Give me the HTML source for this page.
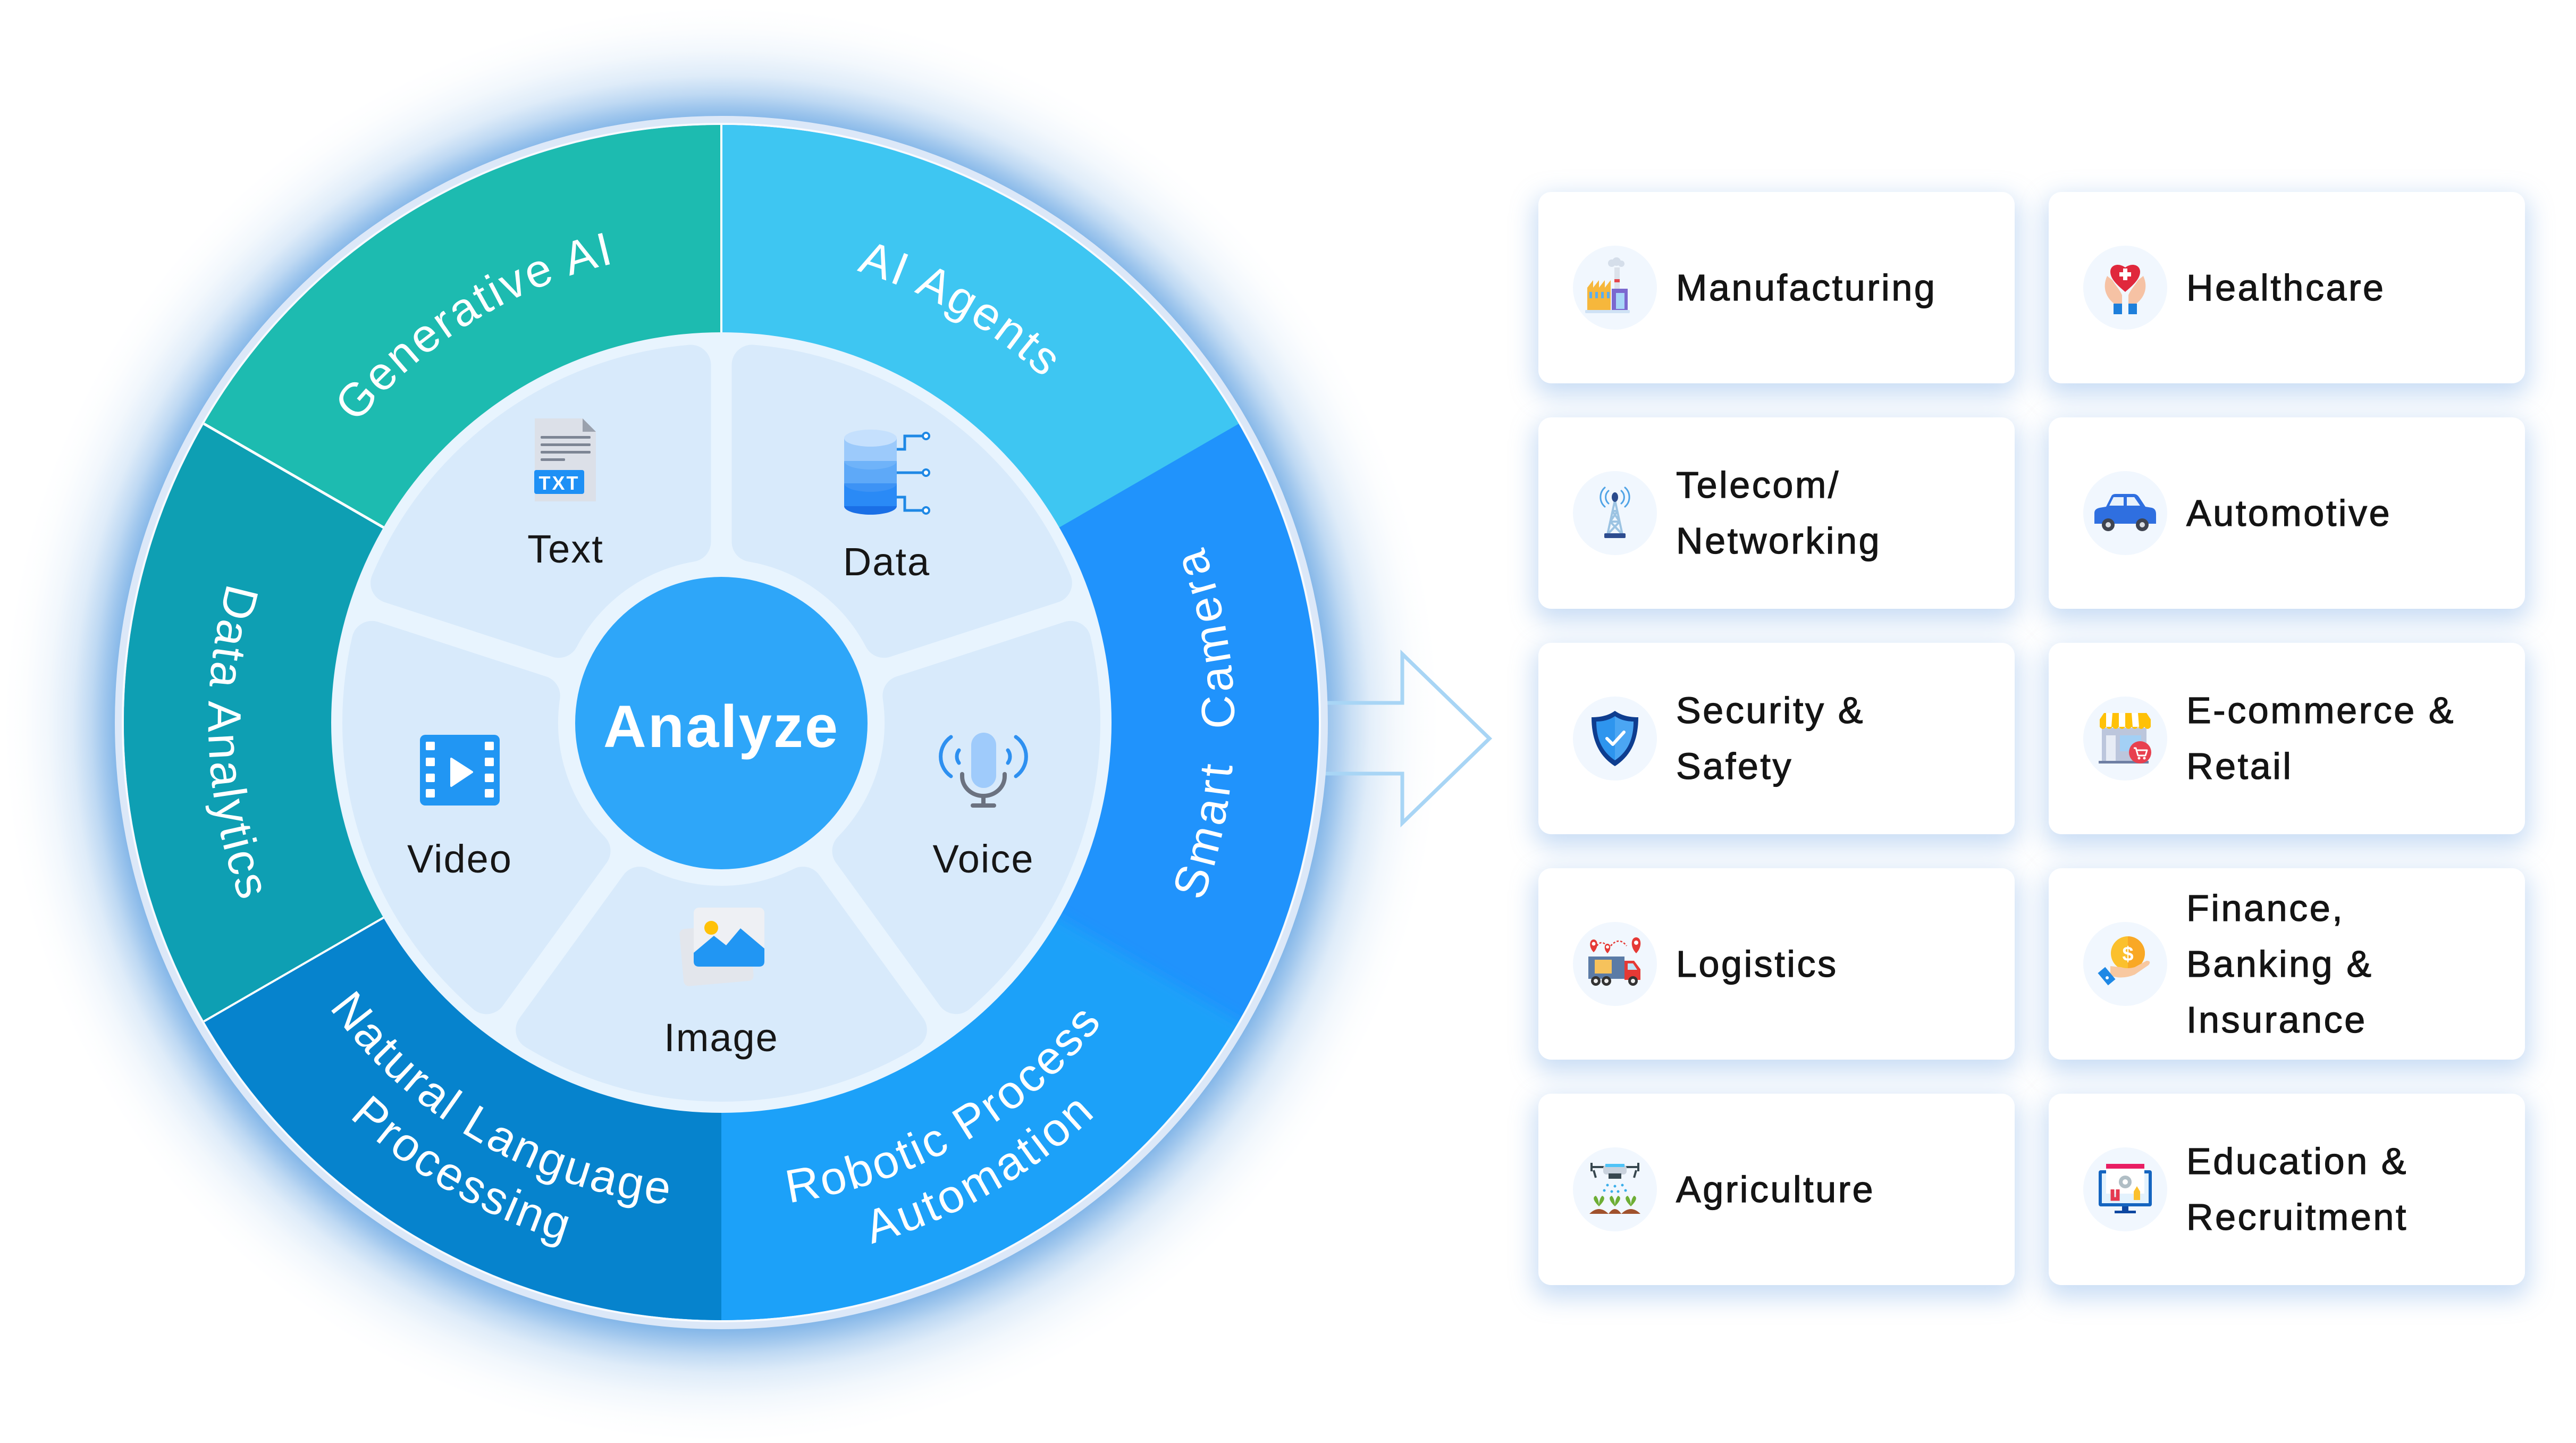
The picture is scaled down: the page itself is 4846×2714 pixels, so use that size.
<!DOCTYPE html>
<html style="width:4846px;height:2714px;overflow:hidden;"><head><meta charset="utf-8">
<style>
html,body{margin:0;padding:0;}
body{width:4846px;height:2714px;position:relative;background:#ffffff;overflow:hidden;font-family:"Liberation Sans",Arial,sans-serif;}
.card{position:absolute;width:896px;height:360px;background:#fff;border-radius:24px;box-shadow:0 16px 46px 8px rgba(105,160,228,0.36);}
.card svg{position:absolute;left:65px;top:101px;width:158px;height:158px;}
.card .t{position:absolute;left:259px;top:0;height:360px;display:flex;align-items:center;font-size:70px;line-height:105px;letter-spacing:3.6px;color:#141414;-webkit-text-stroke:1.3px #141414;white-space:nowrap;}
</style></head>
<body>
<svg width="4846" height="2714" viewBox="0 0 4846 2714" style="position:absolute;left:0;top:0;display:block;overflow:hidden;">
<defs>
  <radialGradient id="glowG" gradientUnits="userSpaceOnUse" cx="1357" cy="1362" r="1350">
    <stop offset="0" stop-color="#2880D7" stop-opacity="0.56"/>
    <stop offset="0.845" stop-color="#2880D7" stop-opacity="0.56"/>
    <stop offset="0.861" stop-color="#2880D7" stop-opacity="0.44"/>
    <stop offset="0.878" stop-color="#2880D7" stop-opacity="0.30"/>
    <stop offset="0.904" stop-color="#2880D7" stop-opacity="0.15"/>
    <stop offset="0.938" stop-color="#2880D7" stop-opacity="0.06"/>
    <stop offset="0.971" stop-color="#2880D7" stop-opacity="0.015"/>
    <stop offset="1" stop-color="#2880D7" stop-opacity="0"/>
  </radialGradient>
  <clipPath id="ring"><circle cx="1357" cy="1359" r="1124"/></clipPath>
  <filter id="soft" x="-5%" y="-5%" width="110%" height="110%"><feGaussianBlur stdDeviation="12"/></filter>
  <path id="pGen" d="M470,1359 A887,887 0 0 1 1800.5,590.8"/>
  <path id="pAg" d="M913.5,590.8 A887,887 0 0 1 2244,1359"/>
  <path id="pSc" d="M1839.5,2194.7 A965,965 0 0 0 1839.5,523.3"/>
  <path id="pDa" d="M874.5,523.3 A965,965 0 0 0 874.5,2194.7"/>
  <path id="pR1" d="M901,2148.8 A912,912 0 0 0 2269,1359"/>
  <path id="pR2" d="M847,2242.3 A1020,1020 0 0 0 2377,1359"/>
  <path id="pN1" d="M445,1359 A912,912 0 0 0 1813,2148.8"/>
  <path id="pN2" d="M337,1359 A1020,1020 0 0 0 1867,2242.3"/>
  <path id="tile" d="M735.1,1096.5 A675,675 0 0 1 1299.5,686.5 L1299.5,1018.8 A345,345 0 0 0 1051.2,1199.2 Z"/>
</defs>

<!-- glow -->
<circle cx="1357" cy="1362" r="1350" fill="url(#glowG)"/>

<!-- arrow -->
<polygon points="2470,1322 2638,1322 2638,1230 2802,1389 2638,1548 2638,1455 2470,1455" fill="rgba(255,255,255,0.18)" stroke="#A8D5F5" stroke-width="7" stroke-linejoin="miter"/>

<!-- outer border -->
<circle cx="1357" cy="1359" r="1141" fill="#DCE8F8"/>
<circle cx="1357" cy="1359" r="1128" fill="#F7FAFE"/>

<!-- wedges -->
<g clip-path="url(#ring)">
  <circle cx="1357" cy="1359" r="1126" fill="#2093FC"/>
  <path d="M1357,1359 L2378.9,1949 A1180,1180 0 0 1 1152.1,2521.1 Z" fill="#1EA1F9" filter="url(#soft)"/>
  <path d="M1357,1359 L1357,179 A1180,1180 0 0 1 2378.9,769 Z" fill="#3EC6F2"/>
  <path d="M1357,1359 L1357,2539 A1180,1180 0 0 1 335.1,1949 Z" fill="#0683CD"/>
  <path d="M1357,1359 L335.1,1949 A1180,1180 0 0 1 335.1,769 Z" fill="#0E9FB3"/>
  <path d="M1357,1359 L335.1,769 A1180,1180 0 0 1 1357,179 Z" fill="#1DBBB0"/>
  <line x1="1357" y1="1359" x2="1357" y2="235" stroke="#ffffff" stroke-width="4"/>
  <line x1="1357" y1="1359" x2="383.6" y2="1921" stroke="#ffffff" stroke-width="4"/>
  <line x1="1357" y1="1359" x2="383.6" y2="797" stroke="#ffffff" stroke-width="5"/>
</g>

<!-- ring labels -->
<g font-family="Liberation Sans, Arial, sans-serif" font-size="88" fill="#ffffff" letter-spacing="4">
  <text><textPath href="#pGen" startOffset="48.5%" text-anchor="middle">Generative AI</textPath></text>
  <text><textPath href="#pAg" startOffset="50%" text-anchor="middle">AI Agents</textPath></text>
  <text letter-spacing="7"><textPath href="#pSc" startOffset="50%" text-anchor="middle">Smart&#160; Camera</textPath></text>
  <text><textPath href="#pDa" startOffset="52%" text-anchor="middle">Data Analytics</textPath></text>
  <text><textPath href="#pR1" startOffset="50%" text-anchor="middle">Robotic Process</textPath></text>
  <text letter-spacing="5"><textPath href="#pR2" startOffset="50%" text-anchor="middle">Automation</textPath></text>
  <text><textPath href="#pN1" startOffset="50%" text-anchor="middle">Natural Language</textPath></text>
  <text><textPath href="#pN2" startOffset="50%" text-anchor="middle">Processing</textPath></text>
</g>

<!-- inner disk -->
<circle cx="1357" cy="1359" r="734" fill="#E8F4FE"/>
<g fill="#D8EAFB" stroke="#D8EAFB" stroke-width="76" stroke-linejoin="round">
  <use href="#tile"/>
  <use href="#tile" transform="rotate(72 1357 1359)"/>
  <use href="#tile" transform="rotate(144 1357 1359)"/>
  <use href="#tile" transform="rotate(216 1357 1359)"/>
  <use href="#tile" transform="rotate(288 1357 1359)"/>
</g>

<!-- center -->
<circle cx="1357" cy="1360" r="275" fill="#2EA6F9"/>
<text x="1357" y="1405" text-anchor="middle" font-family="Liberation Sans, Arial, sans-serif" font-weight="bold" font-size="112" letter-spacing="3" fill="#ffffff">Analyze</text>

<!-- Text icon -->
<g>
  <path d="M1006,787 H1096 L1121,812 V943 H1006 Z" fill="#DCE0E8"/>
  <path d="M1096,787 L1121,812 H1096 Z" fill="#9AA1AD"/>
  <rect x="1017" y="820" width="94" height="5" rx="2" fill="#7D8594"/>
  <rect x="1017" y="834" width="94" height="5" rx="2" fill="#7D8594"/>
  <rect x="1017" y="848" width="94" height="5" rx="2" fill="#7D8594"/>
  <rect x="1017" y="862" width="46" height="5" rx="2" fill="#7D8594"/>
  <rect x="1005" y="884" width="94" height="45" rx="4" fill="#1E90F5"/>
  <text x="1052" y="921" text-anchor="middle" font-family="Liberation Sans, Arial, sans-serif" font-weight="bold" font-size="36" letter-spacing="3" fill="#ffffff">TXT</text>
</g>
<!-- Data icon -->
<g>
  <ellipse cx="1637.5" cy="952" rx="49.5" ry="16" fill="#1A6FE6"/>
  <rect x="1588" y="909" width="99" height="43" fill="#2A8AF6"/>
  <ellipse cx="1637.5" cy="909" rx="49.5" ry="16" fill="#3D93F5"/>
  <rect x="1588" y="867" width="99" height="42" fill="#5EA9F8"/>
  <ellipse cx="1637.5" cy="867" rx="49.5" ry="16" fill="#6FB3F9"/>
  <rect x="1588" y="824" width="99" height="43" fill="#9CCAFB"/>
  <ellipse cx="1637.5" cy="824" rx="49.5" ry="16" fill="#C5E0FD"/>
  <g stroke="#1E88E5" stroke-width="5" fill="none">
    <path d="M1687,845 H1702 V820 H1737"/>
    <path d="M1687,889 H1737"/>
    <path d="M1687,935 H1702 V960 H1737"/>
  </g>
  <g stroke="#1E88E5" stroke-width="4" fill="#ffffff">
    <circle cx="1742" cy="820" r="6"/><circle cx="1742" cy="889" r="6"/><circle cx="1742" cy="960" r="6"/>
  </g>
</g>
<!-- Video icon -->
<g>
  <rect x="790" y="1382" width="150" height="133" rx="10" fill="#2196F3"/>
  <g fill="#ffffff">
    <rect x="801" y="1395" width="17" height="16" rx="2"/><rect x="801" y="1425" width="17" height="16" rx="2"/>
    <rect x="801" y="1455" width="17" height="16" rx="2"/><rect x="801" y="1484" width="17" height="16" rx="2"/>
    <rect x="912" y="1395" width="17" height="16" rx="2"/><rect x="912" y="1425" width="17" height="16" rx="2"/>
    <rect x="912" y="1455" width="17" height="16" rx="2"/><rect x="912" y="1484" width="17" height="16" rx="2"/>
    <path d="M849,1427 L888,1452 L849,1478 Z" stroke="#ffffff" stroke-width="4" stroke-linejoin="round"/>
  </g>
</g>
<!-- Voice icon -->
<g>
  <rect x="1827" y="1378" width="47" height="104" rx="23.5" fill="#9FCBFB"/>
  <path d="M1810,1456 V1460 A40,37 0 0 0 1890,1460 V1456" stroke="#6B7280" stroke-width="8" fill="none" stroke-linecap="round"/>
  <line x1="1850" y1="1497" x2="1850" y2="1513" stroke="#6B7280" stroke-width="8"/>
  <line x1="1830" y1="1515" x2="1870" y2="1515" stroke="#6B7280" stroke-width="8" stroke-linecap="round"/>
  <g stroke="#2E90F0" stroke-width="7" fill="none" stroke-linecap="round">
    <path d="M1789,1386 A45,45 0 0 0 1789,1460"/>
    <path d="M1804,1411 A20,20 0 0 0 1804,1435"/>
    <path d="M1911,1386 A45,45 0 0 1 1911,1460"/>
    <path d="M1896,1411 A20,20 0 0 1 1896,1435"/>
  </g>
</g>
<!-- Image icon -->
<g>
  <rect x="1282" y="1742" width="132" height="108" rx="10" fill="#E3E6EC" transform="rotate(-5 1348 1796)"/>
  <rect x="1305" y="1707" width="133" height="111" rx="10" fill="#EEF0F4"/>
  <circle cx="1338" cy="1745" r="13" fill="#FFC107"/>
  <path d="M1305,1792 L1343,1760 L1366,1778 L1393,1746 L1438,1784 L1438,1808 Q1438,1818 1428,1818 L1315,1818 Q1305,1818 1305,1808 Z" fill="#2196F3"/>
</g>

<!-- inner labels -->
<g font-family="Liberation Sans, Arial, sans-serif" font-size="74" fill="#161616" letter-spacing="2" text-anchor="middle">
  <text x="1064" y="1058">Text</text>
  <text x="1668" y="1082">Data</text>
  <text x="865" y="1641">Video</text>
  <text x="1850" y="1641">Voice</text>
  <text x="1357" y="1977">Image</text>
</g>
</svg>

<!-- Cards -->
<div class="card" style="left:2894px;top:361px;">
  <svg viewBox="-79 -79 158 158">
    <circle r="79" fill="#F1F7FE"/>
    <circle cx="-6" cy="-46" r="7" fill="#D5DEEA"/><circle cx="3" cy="-49" r="8" fill="#D5DEEA"/><circle cx="12" cy="-45" r="6" fill="#D5DEEA"/>
    <rect x="-1" y="-38" width="10" height="42" fill="#DCE2EB"/>
    <rect x="-1" y="-16" width="10" height="6" fill="#E5484D"/>
    <rect x="-6" y="2" width="30" height="40" fill="#7B68CF"/>
    <rect x="2" y="10" width="16" height="30" fill="#A8D6F8"/>
    <path d="M-52,42 V0 L-41,-14 V0 L-30,-14 V0 L-19,-14 V0 L-8,-14 V42 Z" fill="#F6B73C"/>
    <rect x="-48" y="8" width="5" height="12" fill="#5BAEF0"/><rect x="-37" y="8" width="5" height="12" fill="#5BAEF0"/>
    <rect x="-26" y="8" width="5" height="12" fill="#5BAEF0"/><rect x="-15" y="8" width="5" height="12" fill="#5BAEF0"/>
    <rect x="-56" y="42" width="84" height="6" rx="2" fill="#CFE2F5"/>
  </svg>
  <div class="t">Manufacturing</div>
</div>
<div class="card" style="left:3854px;top:361px;">
  <svg viewBox="-79 -79 158 158">
    <circle r="79" fill="#F1F7FE"/>
    <path d="M-34,-22 C-44,0 -36,20 -18,32 L-6,32 L-6,14 C-10,4 -18,-4 -24,-14 Z" fill="#F6C2A4"/>
    <path d="M34,-22 C44,0 36,20 18,32 L6,32 L6,14 C10,4 18,-4 24,-14 Z" fill="#F6C2A4"/>
    <rect x="-22" y="30" width="16" height="20" fill="#1E7FDB"/><rect x="6" y="30" width="16" height="20" fill="#1E7FDB"/>
    <path d="M0,8 C-14,-4 -28,-16 -28,-30 C-28,-42 -14,-48 0,-38 C14,-48 28,-42 28,-30 C28,-16 14,-4 0,8 Z" fill="#E0283C"/>
    <rect x="-4" y="-36" width="8" height="22" fill="#fff"/><rect x="-11" y="-29" width="22" height="8" fill="#fff"/>
  </svg>
  <div class="t">Healthcare</div>
</div>
<div class="card" style="left:2894px;top:785px;">
  <svg viewBox="-79 -79 158 158">
    <circle r="79" fill="#F1F7FE"/>
    <g stroke="#4FA3E6" stroke-width="3" fill="none" stroke-linecap="round">
      <path d="M-12,-42 A16,16 0 0 0 -12,-18"/><path d="M-19,-48 A24,24 0 0 0 -19,-12"/>
      <path d="M12,-42 A16,16 0 0 1 12,-18"/><path d="M19,-48 A24,24 0 0 1 19,-12"/>
    </g>
    <path d="M0,-24 L-14,40 M0,-24 L14,40 M-5,-4 H5 M-9,16 H9 M-5,-4 L9,16 M5,-4 L-9,16 M-9,16 L12,38 M9,16 L-12,38" stroke="#9CC3E2" stroke-width="4" fill="none"/>
    <ellipse cx="0" cy="-30" rx="6" ry="9" fill="#2B4B8C"/>
    <rect x="-20" y="38" width="40" height="9" rx="2" fill="#2D4C8F"/>
  </svg>
  <div class="t">Telecom/<br>Networking</div>
</div>
<div class="card" style="left:3854px;top:785px;">
  <svg viewBox="-79 -79 158 158">
    <circle r="79" fill="#F1F7FE"/>
    <path d="M-58,20 V0 Q-58,-8 -48,-10 L-36,-12 L-26,-32 Q-24,-36 -18,-36 H16 Q22,-36 26,-30 L38,-12 L50,-10 Q58,-8 58,2 V20 Z" fill="#2F6FE0"/>
    <path d="M-22,-30 H-3 V-14 H-30 Z" fill="#E8F1FB"/>
    <path d="M3,-30 H17 L28,-14 H3 Z" fill="#E8F1FB"/>
    <circle cx="-32" cy="22" r="12" fill="#3F4450"/><circle cx="-32" cy="22" r="5" fill="#D9DDE3"/>
    <circle cx="32" cy="22" r="12" fill="#3F4450"/><circle cx="32" cy="22" r="5" fill="#D9DDE3"/>
  </svg>
  <div class="t">Automotive</div>
</div>
<div class="card" style="left:2894px;top:1209px;">
  <svg viewBox="-79 -79 158 158">
    <circle r="79" fill="#F1F7FE"/>
    <path d="M0,-52 C14,-42 30,-40 44,-40 C44,6 28,34 0,52 C-28,34 -44,6 -44,-40 C-30,-40 -14,-42 0,-52 Z" fill="#0E3D8F"/>
    <path d="M0,-42 C12,-34 24,-32 35,-32 C35,4 22,26 0,41 C-22,26 -35,4 -35,-32 C-24,-32 -12,-34 0,-42 Z" fill="#2E95EE"/>
    <path d="M0,-42 C12,-34 24,-32 35,-32 C35,4 22,26 0,41 Z" fill="#5FB3F6" opacity="0.6"/>
    <path d="M-15,0 L-4,11 L17,-12" stroke="#fff" stroke-width="6" fill="none" stroke-linecap="round" stroke-linejoin="round"/>
  </svg>
  <div class="t">Security &amp;<br>Safety</div>
</div>
<div class="card" style="left:3854px;top:1209px;">
  <svg viewBox="-79 -79 158 158">
    <circle r="79" fill="#F1F7FE"/>
    <rect x="-44" y="-20" width="84" height="62" fill="#BCC6DC"/>
    <rect x="-36" y="-6" width="18" height="48" fill="#E7ECF5"/>
    <rect x="-10" y="-6" width="40" height="30" fill="#A3D0F5"/>
    <path d="M-48,-36 L-40,-48 H40 L48,-36 V-22 Q42,-14 36,-22 Q30,-14 24,-22 Q18,-14 12,-22 Q6,-14 0,-22 Q-6,-14 -12,-22 Q-18,-14 -24,-22 Q-30,-14 -36,-22 Q-42,-14 -48,-22 Z" fill="#FFC107"/>
    <path d="M-36,-48 H-24 L-26,-22 H-36 Z M-12,-48 H0 V-22 H-12 Z M12,-48 H24 L26,-22 H14 Z" fill="#ffffff"/>
    <rect x="-50" y="42" width="94" height="5" fill="#6E7FA3"/>
    <circle cx="28" cy="26" r="21" fill="#E8404F"/>
    <path d="M16,18 H20 L24,32 H38 L41,22 H22" stroke="#fff" stroke-width="3" fill="none" stroke-linejoin="round"/>
    <circle cx="26" cy="37" r="2.5" fill="#fff"/><circle cx="36" cy="37" r="2.5" fill="#fff"/>
  </svg>
  <div class="t">E-commerce &amp;<br>Retail</div>
</div>
<div class="card" style="left:2894px;top:1633px;">
  <svg viewBox="-79 -79 158 158">
    <circle r="79" fill="#F1F7FE"/>
    <path d="M-38,-28 Q-26,-50 -14,-32 M-8,-34 Q8,-52 22,-34" stroke="#E53935" stroke-width="2.5" fill="none" stroke-dasharray="4 3"/>
    <path d="M-40,-22 C-50,-32 -48,-46 -40,-46 C-32,-46 -30,-32 -40,-22 Z" fill="#E53935"/>
    <path d="M-14,-20 C-22,-28 -20,-38 -14,-38 C-8,-38 -6,-28 -14,-20 Z" fill="#E53935"/>
    <path d="M40,-20 C28,-32 30,-50 40,-50 C50,-50 52,-32 40,-20 Z" fill="#E53935"/>
    <circle cx="-40" cy="-38" r="3.5" fill="#fff"/><circle cx="-14" cy="-32" r="3" fill="#fff"/><circle cx="40" cy="-40" r="4" fill="#fff"/>
    <rect x="-50" y="-14" width="68" height="42" fill="#5B7BA6"/>
    <rect x="-38" y="-8" width="32" height="26" fill="#F6C25C"/>
    <path d="M18,-6 H36 L48,10 V30 H18 Z" fill="#E53935"/>
    <path d="M24,-1 H34 L42,11 H24 Z" fill="#BFE3F8"/>
    <circle cx="-36" cy="32" r="9" fill="#333"/><circle cx="-36" cy="32" r="4" fill="#eee"/>
    <circle cx="-16" cy="32" r="9" fill="#333"/><circle cx="-16" cy="32" r="4" fill="#eee"/>
    <circle cx="34" cy="32" r="9" fill="#333"/><circle cx="34" cy="32" r="4" fill="#eee"/>
  </svg>
  <div class="t">Logistics</div>
</div>
<div class="card" style="left:3854px;top:1633px;">
  <svg viewBox="-79 -79 158 158">
    <circle r="79" fill="#F1F7FE"/>
    <circle cx="5" cy="-20" r="32" fill="#FBC02D"/>
    <path d="M5,-52 A32,32 0 0 1 5,12 Z" fill="#F9A825"/>
    <text x="5" y="-6" text-anchor="middle" font-family="Liberation Sans, Arial, sans-serif" font-weight="bold" font-size="38" fill="#ffffff">$</text>
    <path d="M-28,22 Q-6,30 18,20 L44,2 Q50,-6 40,-6 L18,6 Q4,10 -8,6 L-28,4 Z" fill="#F8C8A0"/>
    <rect x="-44" y="8" width="18" height="30" fill="#1E88E5" transform="rotate(-40 -35 23)"/>
    <circle cx="-34" cy="26" r="3" fill="#fff"/>
  </svg>
  <div class="t">Finance,<br>Banking &amp;<br>Insurance</div>
</div>
<div class="card" style="left:2894px;top:2057px;">
  <svg viewBox="-79 -79 158 158">
    <circle r="79" fill="#F1F7FE"/>
    <path d="M-44,-42 H-18 M18,-42 H44" stroke="#37474F" stroke-width="4"/>
    <path d="M-44,-50 V-34 M44,-50 V-34" stroke="#37474F" stroke-width="4"/>
    <path d="M-40,-36 L-36,-22 M40,-36 L36,-22" stroke="#37474F" stroke-width="4"/>
    <rect x="-22" y="-46" width="44" height="18" rx="6" fill="#C9D2DD"/>
    <rect x="-12" y="-30" width="24" height="10" fill="#37474F"/>
    <rect x="-18" y="-48" width="36" height="6" fill="#4FC3F7"/>
    <g fill="#3BAEEA"><circle cx="-14" cy="-8" r="2.5"/><circle cx="0" cy="-6" r="2.5"/><circle cx="14" cy="-8" r="2.5"/><circle cx="-20" cy="2" r="2.5"/><circle cx="-6" cy="4" r="2.5"/><circle cx="6" cy="4" r="2.5"/><circle cx="20" cy="2" r="2.5"/></g>
    <g fill="#6DAE35">
      <path d="M-30,32 Q-46,16 -36,12 Q-30,18 -30,32 Q-30,18 -24,12 Q-14,16 -30,32 Z"/>
      <path d="M0,32 Q-16,16 -6,12 Q0,18 0,32 Q0,18 6,12 Q16,16 0,32 Z"/>
      <path d="M30,32 Q14,16 24,12 Q30,18 30,32 Q30,18 36,12 Q46,16 30,32 Z"/>
    </g>
    <path d="M-48,46 Q-30,28 -12,46 Q0,28 12,46 Q30,28 48,46 Z" fill="#A0522D"/>
  </svg>
  <div class="t">Agriculture</div>
</div>
<div class="card" style="left:3854px;top:2057px;">
  <svg viewBox="-79 -79 158 158">
    <circle r="79" fill="#F1F7FE"/>
    <rect x="-50" y="-36" width="100" height="68" rx="4" fill="#1565C0"/>
    <rect x="-44" y="-30" width="88" height="56" fill="#E3F2FD"/>
    <rect x="-36" y="-48" width="72" height="56" fill="#ffffff"/>
    <rect x="-36" y="-48" width="72" height="9" fill="#E91E63"/>
    <circle cx="0" cy="-14" r="12" fill="#B0BEC5"/><circle cx="0" cy="-14" r="5" fill="#ffffff"/>
    <path d="M-24,0 V18 H-14 V0" stroke="#E53950" stroke-width="7" fill="none"/>
    <path d="M16,20 V4 L22,-6 L28,4 V20 Z" fill="#FBC02D"/>
    <rect x="-6" y="32" width="12" height="8" fill="#0D47A1"/>
    <rect x="-20" y="40" width="40" height="5" fill="#0D47A1"/>
  </svg>
  <div class="t">Education &amp;<br>Recruitment</div>
</div>
</body></html>
